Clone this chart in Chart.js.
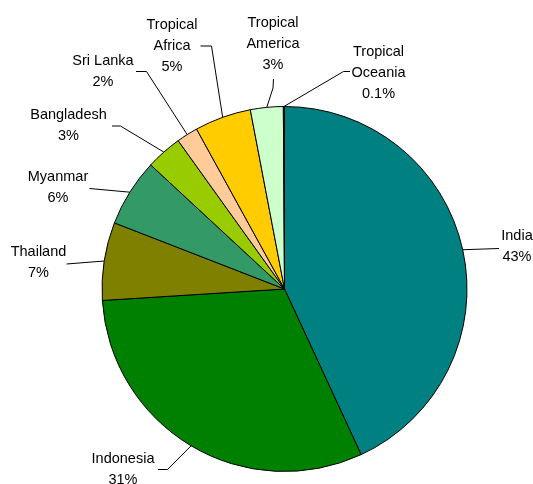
<!DOCTYPE html>
<html>
<head>
<meta charset="utf-8">
<script src="https://cdn.jsdelivr.net/npm/chart.js@4"></script>
<style>
  html, body { margin: 0; padding: 0; background: #ffffff; }
  #wrap { width: 533px; height: 484px; }
</style>
</head>
<body>
<div id="wrap"><canvas id="c" width="533" height="484"></canvas></div>
<script>
// ---- data ----
const categories = ['India', 'Indonesia', 'Thailand', 'Myanmar', 'Bangladesh', 'Sri Lanka', 'Tropical Africa', 'Tropical America', 'Tropical Oceania'];
const shares = [43.1, 30.9, 6.9, 6.0, 3.2, 1.9, 5.0, 2.9, 0.1];

// ---- styles ----
const sliceColors = ['#008080', '#008000', '#808000', '#339966', '#99CC00', '#FFCC99', '#FFCC00', '#CCFFCC', '#99CCFF'];

// ---- label layout (text centre, first-line y, leader elbow points) ----
const labelLayout = [
  { x: 517,   y: 236,   wrap: false, leader: [[499, 248.5]] },
  { x: 123,   y: 459,   wrap: false, leader: [[158, 469.5], [167.5, 469.5]] },
  { x: 38.5,  y: 252,   wrap: false, leader: [[66.5, 264]] },
  { x: 58,    y: 177,   wrap: false, leader: [[89.5, 188.5]] },
  { x: 68.5,  y: 114.5, wrap: false, leader: [[112, 126], [120.5, 126]] },
  { x: 103,   y: 61,    wrap: false, leader: [[136, 71.5], [146.5, 71.5]] },
  { x: 172,   y: 24.5,  wrap: true,  leader: [[200.5, 46], [211.5, 46]] },
  { x: 273,   y: 22.5,  wrap: true,  leader: [[273.5, 79], [273, 88]] },
  { x: 378.5, y: 51.5,  wrap: true,  leader: [[350, 71.5], [343.5, 71.5]] }
];
const lineGap = 21;
const labelFont = '14.5px "Liberation Sans", Arial, sans-serif';

function pctText(v) {
  return (v < 1 ? v.toFixed(1) : Math.round(v).toString()) + '%';
}

const labelPlugin = {
  id: 'pieLabels',
  afterDatasetsDraw(chart) {
    const ctx = chart.ctx;
    const meta = chart.getDatasetMeta(0);
    ctx.save();
    meta.data.forEach((arc, i) => {
      const p = arc.getProps(['x', 'y', 'startAngle', 'endAngle', 'outerRadius'], true);
      const mid = (p.startAngle + p.endAngle) / 2;
      const ex = p.x + Math.cos(mid) * p.outerRadius;
      const ey = p.y + Math.sin(mid) * p.outerRadius;
      const L = labelLayout[i];
      // leader line
      ctx.strokeStyle = '#000000';
      ctx.lineWidth = 1;
      ctx.beginPath();
      ctx.moveTo(L.leader[0][0], L.leader[0][1]);
      for (let k = 1; k < L.leader.length; k++) ctx.lineTo(L.leader[k][0], L.leader[k][1]);
      ctx.lineTo(ex, ey);
      ctx.stroke();
      // text
      const name = categories[i];
      const lines = L.wrap ? name.split(' ') : [name];
      lines.push(pctText(shares[i]));
      ctx.fillStyle = '#000000';
      ctx.font = labelFont;
      ctx.textAlign = 'center';
      ctx.textBaseline = 'middle';
      lines.forEach((t, k) => ctx.fillText(t, L.x, L.y + k * lineGap));
    });
    ctx.restore();
  }
};

new Chart(document.getElementById('c'), {
  type: 'pie',
  data: {
    labels: categories,
    datasets: [{
      data: shares,
      backgroundColor: sliceColors,
      borderColor: '#000000',
      borderWidth: 1
    }]
  },
  options: {
    responsive: false,
    animation: false,
    radius: 182.5,
    layout: { padding: { left: 36, right: 0, top: 94, bottom: 0 } },
    plugins: {
      legend: { display: false },
      tooltip: { enabled: false },
      title: { display: false }
    },
    events: []
  },
  plugins: [labelPlugin]
});
</script>
</body>
</html>
